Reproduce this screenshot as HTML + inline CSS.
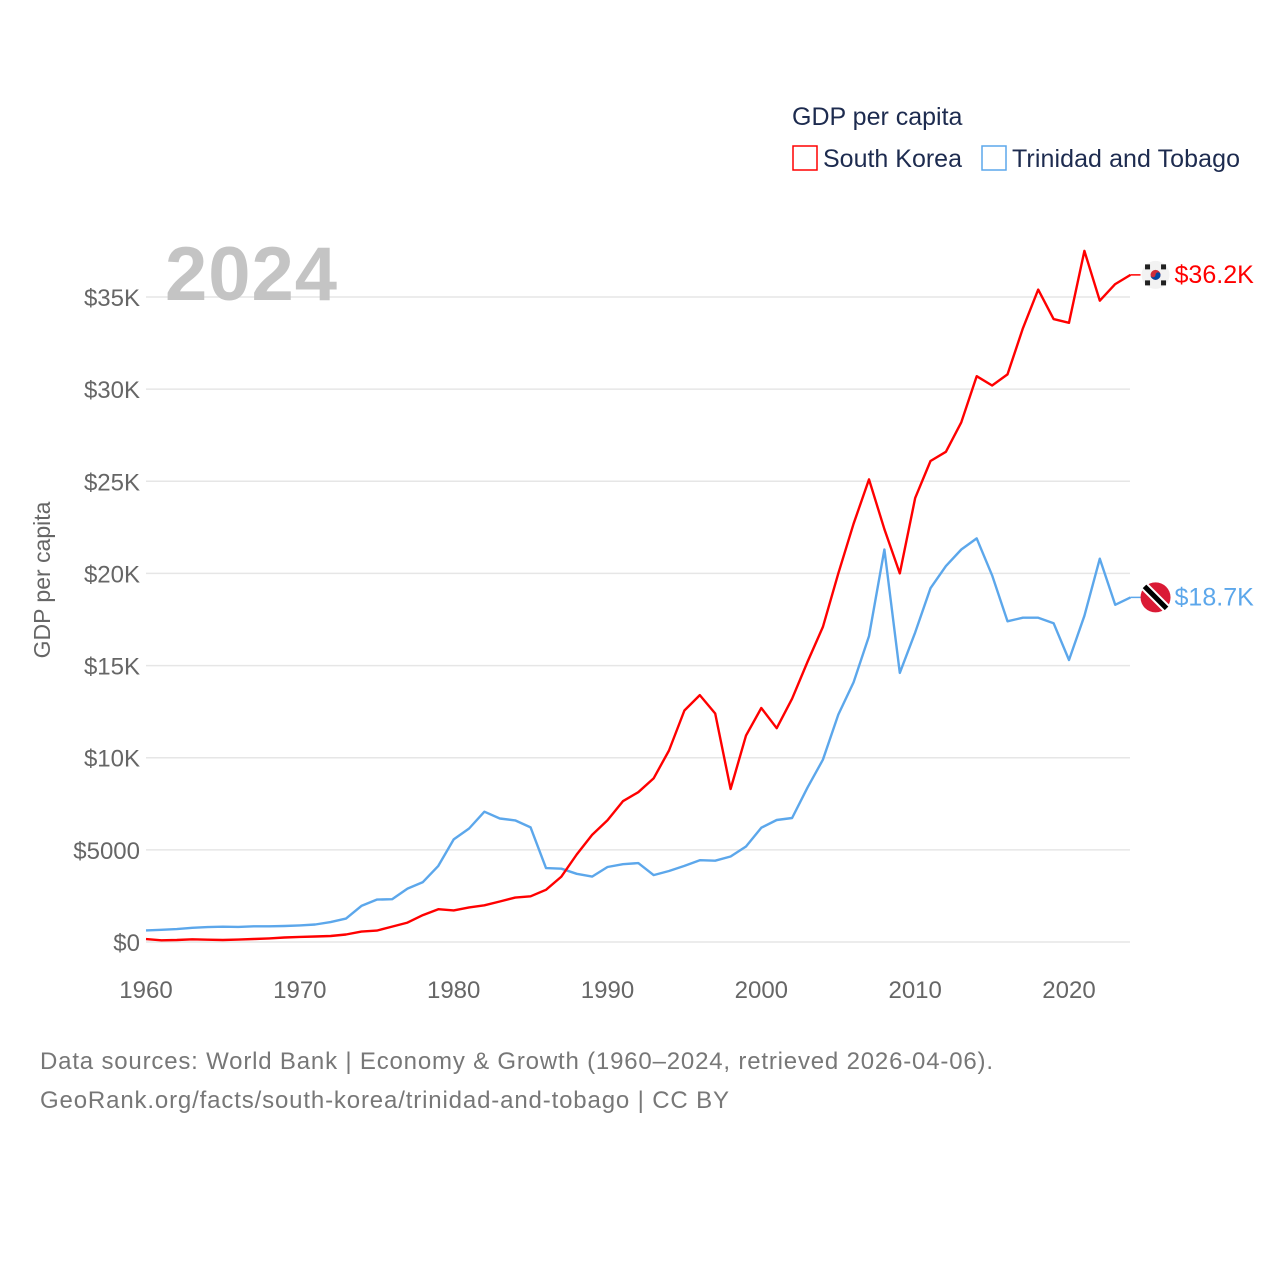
<!DOCTYPE html>
<html><head><meta charset="utf-8"><style>
body{margin:0;background:#fff;font-family:"Liberation Sans",sans-serif;}
svg text{font-family:"Liberation Sans",sans-serif;}
</style></head><body>
<svg id="chart" width="1280" height="1280" viewBox="0 0 1280 1280">
<g id="grid"></g>
<g id="yticks"></g>
<g id="xticks"></g>
<text x="165" y="300" font-size="76" font-weight="bold" fill="#c4c4c4" textLength="172">2024</text>
<text transform="translate(50,580) rotate(-90)" text-anchor="middle" font-size="23" fill="#666">GDP per capita</text>
<g id="series"></g>
<text x="792" y="125" font-size="25" fill="#1d2b4f">GDP per capita</text>
<g>
<rect x="793" y="146" width="24" height="24" fill="none" stroke="#ff0000" stroke-width="1.5"/>
<text x="823" y="167" font-size="25" fill="#1d2b4f">South Korea</text></g>
<g>
<rect x="982" y="146" width="24" height="24" fill="none" stroke="#5ca7eb" stroke-width="1.5"/>
<text x="1012" y="167" font-size="25" fill="#1d2b4f" textLength="228">Trinidad and Tobago</text></g>
<text x="40" y="1069" font-size="24" fill="#777" textLength="953">Data sources: World Bank | Economy &amp; Growth (1960–2024, retrieved 2026-04-06).</text>
<text x="40" y="1108" font-size="24" fill="#777" textLength="689">GeoRank.org/facts/south-korea/trinidad-and-tobago | CC BY</text>
</svg>
<script>
const years=[];for(let y=1960;y<=2024;y++)years.push(y);
const korea=[158,94,106,146,124,108,131,161,198,244,279,300,324,406,563,617,835,1055,1460,1780,1715,1880,1990,2200,2410,2480,2830,3550,4750,5810,6610,7640,8130,8880,10390,12560,13400,12400,8300,11200,12700,11600,13200,15200,17100,20000,22700,25100,22400,20000,24100,26100,26600,28200,30700,30200,30800,33300,35400,33800,33600,37500,34800,35700,36200];
const trinidad=[630,660,700,770,810,830,820,850,850,870,900,950,1080,1270,1960,2300,2320,2900,3250,4130,5570,6160,7070,6700,6600,6220,4010,3980,3700,3550,4070,4220,4280,3630,3850,4130,4440,4410,4640,5180,6200,6620,6730,8380,9890,12340,14100,16600,21300,14600,16800,19200,20400,21300,21900,19900,17400,17600,17600,17300,15300,17700,20800,18300,18700];
const yTicks=[0,5000,10000,15000,20000,25000,30000,35000];
const yTickLabels=["$0","$5000","$10K","$15K","$20K","$25K","$30K","$35K"];
const xTicks=[1960,1970,1980,1990,2000,2010,2020];
const NS="http://www.w3.org/2000/svg";
const X=y=>146+(y-1960)*(1069-146)/60;
const Y=v=>942-v*(645/35000);
function mk(tag,attrs,parent){const e=document.createElementNS(NS,tag);for(const k in attrs)e.setAttribute(k,attrs[k]);parent.appendChild(e);return e;}
const grid=document.getElementById('grid'),yt=document.getElementById('yticks'),xt=document.getElementById('xticks'),ser=document.getElementById('series');
yTicks.forEach((v,i)=>{
 const l=mk('line',{x1:146,x2:1130,y1:Y(v),y2:Y(v),stroke:'#e6e6e6','stroke-width':1.5},grid);
 
 
 const t=mk('text',{x:140,y:Y(v)+9,'text-anchor':'end','font-size':24,fill:'#666'},yt);
 t.textContent=yTickLabels[i];
 
 
});
xTicks.forEach(v=>{
 const t=mk('text',{x:X(v),y:998,'text-anchor':'middle','font-size':24,fill:'#666'},xt);
 t.textContent=v;
 
 
});
function line(vals,color,name){
 const d=vals.map((v,i)=>(i?'L':'M')+X(years[i]).toFixed(1)+','+Y(v).toFixed(1)).join('');
 const p=mk('path',{d:d,fill:'none',stroke:color,'stroke-width':2.4,'stroke-linejoin':'round'},ser);
 
 
}
line(trinidad,'#5ca7eb','trinidad-line');
line(korea,'#ff0000','south-korea-line');
function endLabel(vals,color,name,flag){
 const v=vals[vals.length-1],x=X(2024),y=Y(v);
 mk('line',{x1:x,x2:x+10,y1:y,y2:y,stroke:color,'stroke-width':1.5},ser);
 const g=mk('g',{},ser);
 
 
 const cx=x+25;
 if(flag==='kr'){
  mk('circle',{cx:cx,cy:y,r:14,fill:'#f2f2f2'},g);
  mk('circle',{cx:cx,cy:y,r:5,fill:'#cd2e3a'},g);
  mk('path',{d:`M${cx-5},${y} a5,5 0 0,0 10,0 a2.5,2.5 0 0,0 -5,0 a2.5,2.5 0 0,1 -5,0z`,fill:'#0047a0'},g);
  [[-8,-8],[8,-8],[-8,8],[8,8]].forEach(o=>mk('rect',{x:cx+o[0]-2.5,y:y+o[1]-2.5,width:5,height:5,fill:'#222'},g));
 }else{
  mk('circle',{cx:cx,cy:y,r:15,fill:'#da1a35'},g);
  mk('line',{x1:cx-11,y1:y-11,x2:cx+11,y2:y+11,stroke:'#fff','stroke-width':9},g);
  mk('line',{x1:cx-11,y1:y-11,x2:cx+11,y2:y+11,stroke:'#000','stroke-width':5},g);
 }
 const t=mk('text',{x:x+44,y:y+8,'font-size':25,fill:color},ser);
 t.textContent='$'+(v/1000).toFixed(1)+'K';
 
 
}
endLabel(korea,'#ff0000','south-korea','kr');
endLabel(trinidad,'#5ca7eb','trinidad','tt');
</script>
</body></html>
